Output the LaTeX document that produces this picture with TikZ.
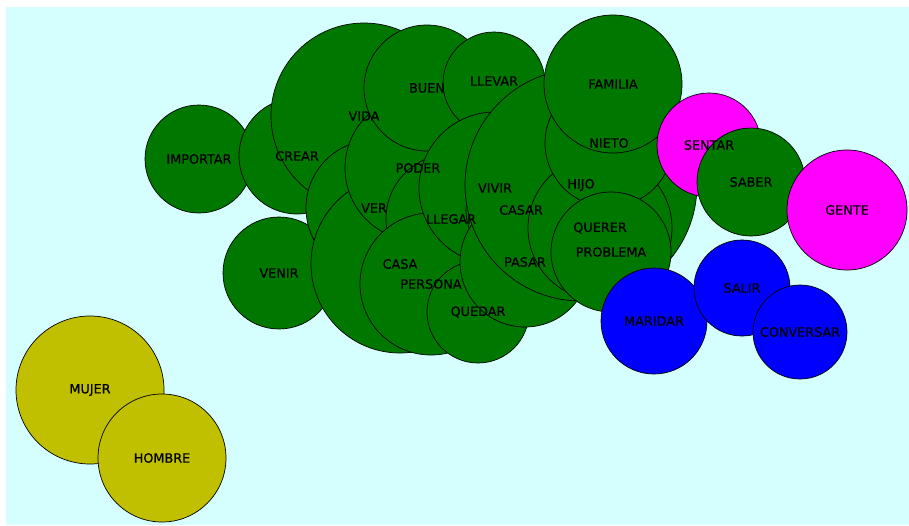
\documentclass[tikz,border=0pt]{standalone}
\usepackage{fontspec}
\setmainfont{DejaVu Sans}[FakeBold=0.6]
\newfontfamily\lblfont{DejaVu Sans}[FakeBold=0.8]
\definecolor{bgcyan}{RGB}{213,255,255}
\definecolor{gr}{RGB}{0,120,0}
\definecolor{mg}{RGB}{255,0,255}
\definecolor{bl}{RGB}{0,0,255}
\definecolor{ol}{RGB}{192,192,0}
\tikzset{
  bub/.style={circle,draw=black,line width=0.7pt,inner sep=0pt,minimum size=#1},
  g/.style={fill=gr}, m/.style={fill=mg}, b/.style={fill=bl}, o/.style={fill=ol},
  lbl/.style={inner sep=0pt,font=\lblfont\fontsize{12.8}{13}\selectfont,text=black}
}
\begin{document}
\begin{tikzpicture}[x=1pt,y=-1pt]
\useasboundingbox (0,0) rectangle (909,525);
\fill[white] (0,0) rectangle (909,525);
\fill[bgcyan] (6,7) rectangle (909,525);
% circles, back to front
\node[bub=108,g] (importar) at (199,159) {};
\node[bub=116,g] (crear) at (297,156) {};
\node[bub=186,g] (vida) at (364,116) {};
\node[bub=112,g] (venir) at (279,273) {};
\node[bub=136,g] (ver) at (374,208) {};
\node[bub=178,g] (casa) at (400,264) {};
\node[bub=146,g] (poder) at (418,168) {};
\node[bub=126,g] (buen) at (427,88) {};
\node[bub=102,g] (llevar) at (494,83) {};
\node[bub=130,g] (llegar) at (451,219) {};
\node[bub=142,g] (persona) at (431,284) {};
\node[bub=102,g] (quedar) at (478,312) {};
\node[bub=152,g] (vivir) at (495,188) {};
\node[bub=110,g] (casar) at (521,210) {};
\node[bub=130,g] (pasar) at (525,262) {};
\node[bub=232,g] (hijo) at (581,185) {};
\node[bub=144,g] (querer) at (600,228) {};
\node[bub=128,g] (nieto) at (609,143) {};
\node[bub=120,g] (problema) at (611,252) {};
\node[bub=138,g] (familia) at (613,84) {};
\node[bub=104,m] (sentar) at (709,145) {};
\node[bub=108,g] (saber) at (751,182) {};
\node[bub=120,m] (gente) at (847,210) {};
\node[bub=106,b] (maridar) at (654,321) {};
\node[bub=96,b] (salir) at (742,288) {};
\node[bub=94,b] (conversar) at (800,332) {};
\node[bub=148,o] (mujer) at (90,390) {};
\node[bub=128,o] (hombre) at (162,458) {};
% labels
\node[lbl] (l-importar) at (importar) {IMPORTAR};
\node[lbl] (l-crear) at (crear) {CREAR};
\node[lbl] (l-vida) at (vida) {VIDA};
\node[lbl] (l-venir) at (venir) {VENIR};
\node[lbl] (l-ver) at (ver) {VER};
\node[lbl] (l-casa) at (casa) {CASA};
\node[lbl] (l-poder) at (poder) {PODER};
\node[lbl] (l-buen) at (buen) {BUEN};
\node[lbl] (l-llevar) at (494,81) {LLEVAR};
\node[lbl] (l-llegar) at (llegar) {LLEGAR};
\node[lbl] (l-persona) at (persona) {PERSONA};
\node[lbl] (l-quedar) at (quedar) {QUEDAR};
\node[lbl] (l-vivir) at (vivir) {VIVIR};
\node[lbl] (l-casar) at (casar) {CASAR};
\node[lbl] (l-pasar) at (pasar) {PASAR};
\node[lbl] (l-hijo) at (hijo) {HIJO};
\node[lbl] (l-querer) at (querer) {QUERER};
\node[lbl] (l-nieto) at (nieto) {NIETO};
\node[lbl] (l-problema) at (problema) {PROBLEMA};
\node[lbl] (l-familia) at (familia) {FAMILIA};
\node[lbl] (l-sentar) at (sentar) {SENTAR};
\node[lbl] (l-saber) at (saber) {SABER};
\node[lbl] (l-gente) at (gente) {GENTE};
\node[lbl] (l-maridar) at (maridar) {MARIDAR};
\node[lbl] (l-salir) at (salir) {SALIR};
\node[lbl] (l-conversar) at (conversar) {CONVERSAR};
\node[lbl] (l-mujer) at (mujer) {MUJER};
\node[lbl] (l-hombre) at (hombre) {HOMBRE};
\end{tikzpicture}
\end{document}
